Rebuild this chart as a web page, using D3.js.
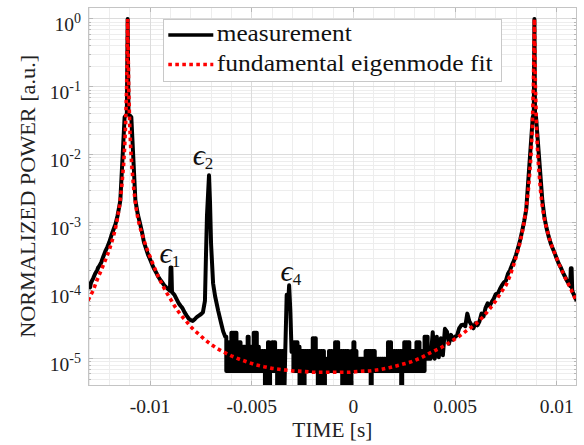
<!DOCTYPE html>
<html><head><meta charset="utf-8">
<script src="https://cdn.jsdelivr.net/npm/d3@7"></script>
<style>
body{margin:0;background:#fff}
svg{display:block}
svg text{font-family:"Liberation Serif","Times New Roman",serif}
</style>
</head><body><svg id="c" width="584" height="445"></svg>
<script>
// ---------- data ----------
const xDomain = [-0.01305, 0.01098];
const yDomain = [4e-6, 1.5];
const xTicks = [-0.01, -0.005, 0, 0.005, 0.01];
const xTickLabels = ["-0.01", "-0.005", "0", "0.005", "0.01"];
const yTickExps = [0, -1, -2, -3, -4, -5];
const seriesNames = ["measurement", "fundamental eigenmode fit"];
const xLabel = "TIME [s]";
const yLabel = "NORMALIZED POWER [a.u.]";
const peakLabels = [
  {sub: "1", t: -0.00953, p: 2.6e-4},
  {sub: "2", t: -0.00790, p: 7.1e-3},
  {sub: "4", t: -0.00358, p: 1.38e-4}
];
// measurement, left part: [time (s), normalized power]
const measurementLeft = [
[-0.01305,1.07e-4],[-0.0130,1.17e-4],[-0.01295,1.12e-4],[-0.0129,1.32e-4],[-0.0128,1.51e-4],
[-0.0127,1.78e-4],[-0.0126,2.0e-4],[-0.01255,2.2e-4],[-0.0125,2.3e-4],[-0.0124,2.6e-4],
[-0.0123,3.16e-4],[-0.0122,3.8e-4],[-0.0121,4.4e-4],[-0.0120,5.2e-4],[-0.0119,6.5e-4],
[-0.0118,7.9e-4],[-0.0117,9.5e-4],[-0.0116,1.26e-3],[-0.0115,1.82e-3],[-0.01146,2.14e-3],
[-0.01125,3.6e-2],[-0.01114,4.0e-2],[-0.0111,1],[-0.01106,4.0e-2],[-0.01092,3.6e-2],
[-0.01072,2.14e-3],[-0.0106,1.32e-3],[-0.0105,1.0e-3],[-0.0104,7.4e-4],[-0.0103,5.2e-4],
[-0.0102,4.2e-4],[-0.0101,3.4e-4],[-0.0100,2.9e-4],[-0.0099,2.45e-4],[-0.0098,2.1e-4],
[-0.0097,1.86e-4],[-0.0096,1.62e-4],[-0.0095,1.45e-4],[-0.0094,1.32e-4],[-0.0093,1.2e-4],
[-0.0092,1.12e-4],[-0.0091,1.05e-4],[-0.00902,1.0e-4],[-0.00899,2.2e-4],[-0.00895,2.2e-4],
[-0.00892,9.5e-5],[-0.0088,8.7e-5],[-0.0087,7.6e-5],[-0.0086,6.6e-5],[-0.0085,6.0e-5],
[-0.0084,5.5e-5],[-0.0083,4.8e-5],[-0.0082,4.3e-5],[-0.0081,3.9e-5],[-0.0080,3.7e-5],
[-0.0079,3.6e-5],[-0.0078,3.8e-5],[-0.0077,4.1e-5],[-0.0076,4.3e-5],[-0.0075,4.5e-5],
[-0.0074,4.8e-5],[-0.0073,7.1e-5],[-0.00725,3.2e-4],[-0.0072,1.26e-3],[-0.0071,5.0e-3],
[-0.00705,2.0e-3],[-0.0070,5.0e-4],[-0.0069,1.29e-4],[-0.0068,8.3e-5],[-0.00665,5.1e-5],
[-0.0065,3.3e-5],[-0.0064,2.5e-5]
];
// measurement noise floor, per 0.1 ms bin: [bin start (s), bin max, bin min]
const noiseBinsA = [
[-0.0063,2.1e-5,6.6e-6],[-0.0062,1.75e-5,6.6e-6],[-0.0061,1.75e-5,6.6e-6],[-0.0060,2.4e-5,6.6e-6],
[-0.0059,2.4e-5,6.6e-6],[-0.0058,2.4e-5,6.6e-6],[-0.0057,1.75e-5,6.6e-6],[-0.0056,1.75e-5,6.6e-6],
[-0.0055,1.5e-5,6.6e-6],[-0.0054,1.5e-5,6.6e-6],[-0.0053,1.5e-5,6.6e-6],[-0.0052,2.1e-5,6.6e-6],
[-0.0051,1.5e-5,6.6e-6],[-0.0050,1.5e-5,6.6e-6],[-0.0049,2.4e-5,6.6e-6],[-0.0048,2.4e-5,6.6e-6],
[-0.0047,1.5e-5,6.6e-6],[-0.0046,1.3e-5,6.6e-6],[-0.0045,1.3e-5,6.6e-6],[-0.0044,1.3e-5,2.5e-6],
[-0.0043,1.3e-5,2.5e-6],[-0.0042,1.75e-5,2.5e-6],[-0.0041,1.3e-5,6.6e-6],[-0.0040,1.75e-5,6.6e-6],
[-0.0039,1.75e-5,6.6e-6],[-0.0038,1.3e-5,2.5e-6],[-0.0037,1.3e-5,2.5e-6],[-0.0036,1.3e-5,6.6e-6],
[-0.0035,1.3e-5,2.5e-6]
];
// measurement around the 4th peak: [time (s), normalized power]
const measurementEps4 = [
[-0.00335,1.3e-5],[-0.00328,8.7e-5],[-0.00322,5.6e-5],[-0.00316,1.2e-4],[-0.0031,5.0e-5],
[-0.00304,1.26e-5]
];
const noiseBinsB = [
[-0.0030,1.75e-5,6.6e-6],[-0.0029,1.75e-5,6.6e-6],[-0.0028,1.75e-5,6.6e-6],[-0.0027,1.5e-5,2.5e-6],
[-0.0026,1.3e-5,2.5e-6],[-0.0025,1.3e-5,2.5e-6],[-0.0024,1.3e-5,6.6e-6],[-0.0023,1.3e-5,6.6e-6],
[-0.0022,1.3e-5,6.6e-6],[-0.0021,1.3e-5,6.6e-6],[-0.0020,2.0e-5,6.6e-6],[-0.0019,2.0e-5,6.6e-6],
[-0.0018,1.3e-5,2.5e-6],[-0.0017,1.3e-5,2.5e-6],[-0.0016,1.3e-5,2.5e-6],[-0.0015,1.3e-5,2.5e-6],
[-0.0014,1.0e-5,6.6e-6],[-0.0013,1.0e-5,6.6e-6],[-0.0012,1.3e-5,6.6e-6],[-0.0011,1.3e-5,6.6e-6],
[-0.0010,1.0e-5,6.6e-6],[-0.0009,1.75e-5,6.6e-6],[-0.0008,1.75e-5,6.6e-6],[-0.0007,1.3e-5,6.6e-6],
[-0.0006,1.3e-5,2.5e-6],[-0.0005,1.3e-5,2.5e-6],[-0.0004,1.3e-5,2.5e-6],[-0.0003,1.3e-5,2.5e-6],
[-0.0002,1.0e-5,2.5e-6],[-0.0001,1.3e-5,6.6e-6],[0.0000,1.75e-5,6.6e-6],[0.0001,1.3e-5,6.6e-6],
[0.0002,1.0e-5,6.6e-6],[0.0003,1.0e-5,6.6e-6],[0.0004,1.0e-5,6.6e-6],[0.0005,1.0e-5,6.6e-6],
[0.0006,1.3e-5,6.6e-6],[0.0007,1.3e-5,6.6e-6],[0.0008,1.3e-5,2.5e-6],[0.0009,1.3e-5,6.6e-6],
[0.0010,1.3e-5,6.6e-6],[0.0011,1.0e-5,6.6e-6],[0.0012,1.0e-5,6.6e-6],[0.0013,1.0e-5,6.6e-6],
[0.0014,1.0e-5,6.6e-6],[0.0015,1.0e-5,6.6e-6],[0.0016,1.0e-5,6.6e-6],[0.0017,1.75e-5,6.6e-6],
[0.0018,1.75e-5,6.6e-6],[0.0019,1.3e-5,6.6e-6],[0.0020,1.3e-5,6.6e-6],[0.0021,1.3e-5,6.6e-6],
[0.0022,1.3e-5,6.6e-6],[0.0023,1.3e-5,2.5e-6],[0.0024,1.3e-5,6.6e-6],[0.0025,1.75e-5,6.6e-6],
[0.0026,1.75e-5,6.6e-6],[0.0027,1.75e-5,6.6e-6],[0.0028,1.3e-5,6.6e-6],[0.0029,1.3e-5,6.6e-6],
[0.0030,1.3e-5,6.6e-6],[0.0031,1.75e-5,6.6e-6],[0.0032,1.75e-5,6.6e-6],[0.0033,1.3e-5,6.6e-6],
[0.0034,1.3e-5,6.6e-6],[0.0035,2.1e-5,1.0e-5],[0.0036,2.1e-5,1.0e-5]
];
// measurement, right part: [time (s), normalized power]
const measurementRight = [
[0.0038,1.0e-5],[0.0039,2.45e-5],[0.0040,1.0e-5],[0.0041,2.1e-5],[0.0042,1.05e-5],
[0.0043,2.0e-5],[0.0044,1.12e-5],[0.0045,2.75e-5],[0.0046,2.5e-5],[0.0047,1.66e-5],
[0.0048,2.24e-5],[0.0049,1.9e-5],[0.0050,2.1e-5],[0.0051,2.2e-5],[0.0052,2.8e-5],
[0.0053,3.1e-5],[0.0054,3.16e-5],[0.0055,3.0e-5],[0.0056,4.6e-5],[0.0057,3.55e-5],
[0.0058,3.16e-5],[0.0059,2.8e-5],[0.0060,3.3e-5],[0.0061,3.1e-5],[0.0062,3.55e-5],
[0.0063,4.6e-5],[0.0064,4.2e-5],[0.0065,5.6e-5],[0.0066,6.5e-5],[0.0067,6.0e-5],
[0.0068,6.8e-5],[0.0069,7.6e-5],[0.0070,8.9e-5],[0.0071,9.1e-5],[0.0072,1.05e-4],
[0.0073,1.2e-4],[0.0074,1.32e-4],[0.0075,1.41e-4],[0.0076,1.78e-4],[0.0077,2.0e-4],
[0.0078,2.4e-4],[0.0079,2.8e-4],[0.0080,3.4e-4],[0.0081,4.3e-4],[0.0082,5.6e-4],
[0.0083,7.6e-4],[0.0084,1.07e-3],[0.0085,1.58e-3],[0.00853,2.14e-3],[0.00882,3.6e-2],
[0.00887,4.0e-2],[0.0089,1],[0.00893,4.0e-2],[0.00898,3.6e-2],[0.00929,2.14e-3],
[0.0094,1.17e-3],[0.0095,8.3e-4],[0.0096,6.3e-4],[0.0097,5.0e-4],[0.0098,4.2e-4],
[0.0099,3.55e-4],[0.0100,2.95e-4],[0.0101,2.5e-4],[0.0102,2.2e-4],[0.0103,1.86e-4],
[0.0104,1.62e-4],[0.0105,1.41e-4],[0.0106,1.26e-4],[0.01066,1.17e-4],[0.01069,2.14e-4],
[0.01073,2.14e-4],[0.01076,1.0e-4],[0.0108,9.3e-5],[0.01098,7.1e-5]
];
// fundamental eigenmode fit: [time (s), normalized power]
const eigenmodeFit = [
[-0.01305,7.2e-5],[-0.0128,1.0e-4],[-0.0126,1.45e-4],[-0.0124,2.0e-4],[-0.0122,2.8e-4],
[-0.0120,4.0e-4],[-0.0118,6.3e-4],[-0.0117,8.3e-4],[-0.0116,1.17e-3],[-0.0115,1.78e-3],
[-0.0114,3.16e-3],[-0.0113,7.1e-3],[-0.01125,1.26e-2],[-0.0112,2.8e-2],[-0.01115,0.1],
[-0.0111,1],[-0.01105,0.1],[-0.0110,2.8e-2],[-0.01095,1.26e-2],[-0.0109,7.1e-3],
[-0.0108,3.16e-3],[-0.0107,1.78e-3],[-0.0106,1.17e-3],[-0.0105,8.7e-4],[-0.0104,6.9e-4],
[-0.0102,4.5e-4],[-0.0100,3.16e-4],[-0.0098,2.24e-4],[-0.0096,1.62e-4],[-0.0094,1.23e-4],
[-0.0092,9.5e-5],[-0.0090,7.6e-5],[-0.0088,6.0e-5],[-0.0086,4.9e-5],[-0.0084,4.1e-5],
[-0.0082,3.5e-5],[-0.0080,2.95e-5],[-0.0078,2.57e-5],[-0.0076,2.29e-5],[-0.0073,1.9e-5],
[-0.0070,1.62e-5],[-0.0067,1.41e-5],[-0.0064,1.26e-5],[-0.0060,1.1e-5],[-0.0056,9.8e-6],
[-0.0052,8.9e-6],[-0.0048,8.1e-6],[-0.0044,7.6e-6],[-0.0040,7.2e-6],[-0.0035,6.9e-6],
[-0.0030,6.6e-6],[-0.0025,6.5e-6],[-0.0020,6.3e-6],[-0.0011,6.3e-6],[-0.0002,6.3e-6],
[0.0003,6.5e-6],[0.0008,6.6e-6],[0.0013,6.9e-6],[0.0018,7.4e-6],[0.0023,8.1e-6],
[0.0028,8.9e-6],[0.0033,1.02e-5],[0.0038,1.23e-5],[0.0043,1.45e-5],[0.0048,1.78e-5],
[0.0052,2.14e-5],[0.0056,2.63e-5],[0.0060,3.2e-5],[0.0064,4.2e-5],[0.0067,5.4e-5],
[0.0070,7.1e-5],[0.0073,9.8e-5],[0.0075,1.2e-4],[0.0077,1.66e-4],[0.0079,2.5e-4],
[0.0081,4.0e-4],[0.0082,5.2e-4],[0.0083,7.2e-4],[0.0084,1.05e-3],[0.0085,1.66e-3],
[0.0086,3.0e-3],[0.0087,7.1e-3],[0.00875,1.26e-2],[0.0088,2.8e-2],[0.00885,0.1],
[0.0089,1],[0.00895,0.1],[0.0090,2.8e-2],[0.00905,1.26e-2],[0.0091,7.1e-3],
[0.0092,3.0e-3],[0.0093,1.66e-3],[0.0094,1.1e-3],[0.0095,8.3e-4],[0.0097,5.0e-4],
[0.0099,3.55e-4],[0.0101,2.5e-4],[0.0104,1.58e-4],[0.0107,1.05e-4],[0.01098,6.8e-5]
];

// ---------- drawing ----------
const L = 88, R = 576.7, T = 7, B = 385.7;
const svg = d3.select("#c");
const x = d3.scaleLinear().domain(xDomain).range([L, R]);
const y = d3.scaleLog().domain(yDomain).range([B, T]);

const BIN = 0.0001;
const binTrace = bins => bins.flatMap(([t, hi, lo]) =>
  [[t, hi], [t + BIN / 2, hi], [t + BIN / 2, lo], [t + BIN, lo]]);
const measurement = [].concat(measurementLeft, binTrace(noiseBinsA), measurementEps4,
  binTrace(noiseBinsB), measurementRight);

svg.append("rect").attr("width", 584).attr("height", 445).attr("fill", "#fff");

const grid = svg.append("g").attr("shape-rendering", "crispEdges");
grid.selectAll(".xm").data(x.ticks(25)).join("line")
  .attr("x1", d => x(d)).attr("x2", d => x(d)).attr("y1", T).attr("y2", B)
  .attr("stroke", "#ededed");
grid.selectAll(".ym").data(y.ticks()).join("line")
  .attr("x1", L).attr("x2", R).attr("y1", d => y(d)).attr("y2", d => y(d))
  .attr("stroke", "#ededed");
grid.selectAll(".xM").data(xTicks).join("line")
  .attr("x1", d => x(d)).attr("x2", d => x(d)).attr("y1", T).attr("y2", B)
  .attr("stroke", "#dcdcdc");
grid.selectAll(".yM").data(yTickExps).join("line")
  .attr("x1", L).attr("x2", R).attr("y1", d => y(Math.pow(10, d))).attr("y2", d => y(Math.pow(10, d)))
  .attr("stroke", "#dcdcdc");

const tk = svg.append("g").attr("stroke", "#b8b8b8").attr("shape-rendering", "crispEdges");
xTicks.forEach(v => {
  tk.append("line").attr("x1", x(v)).attr("x2", x(v)).attr("y1", B).attr("y2", B - 5);
  tk.append("line").attr("x1", x(v)).attr("x2", x(v)).attr("y1", T).attr("y2", T + 5);
});
y.ticks().forEach(v => {
  const major = Math.abs(Math.log10(v) - Math.round(Math.log10(v))) < 1e-9;
  const len = major ? 5 : 3;
  tk.append("line").attr("x1", L).attr("x2", L + len).attr("y1", y(v)).attr("y2", y(v));
  tk.append("line").attr("x1", R).attr("x2", R - len).attr("y1", y(v)).attr("y2", y(v));
});

svg.append("clipPath").attr("id", "clip").append("rect")
  .attr("x", L).attr("y", T).attr("width", R - L).attr("height", B - T);
const line = d3.line().x(d => x(d[0])).y(d => y(d[1]));
const plot = svg.append("g").attr("clip-path", "url(#clip)");
plot.append("path").datum(measurement).attr("d", line)
  .attr("fill", "none").attr("stroke", "#000").attr("stroke-width", 4)
  .attr("stroke-linejoin", "round");
plot.append("path").datum(eigenmodeFit).attr("d", line)
  .attr("fill", "none").attr("stroke", "#ff0000").attr("stroke-width", 3.6)
  .attr("stroke-dasharray", "3.6,3.4");

svg.append("rect").attr("x", L).attr("y", T).attr("width", R - L).attr("height", B - T)
  .attr("fill", "none").attr("stroke", "#c4c4c4").attr("shape-rendering", "crispEdges");

svg.selectAll(".xl").data(xTicks).join("text")
  .attr("x", d => x(d)).attr("y", 413).attr("text-anchor", "middle")
  .style("font-size", "19.5px").attr("fill", "#222")
  .text((d, i) => xTickLabels[i]);

yTickExps.forEach(e => {
  const t = svg.append("text").attr("x", 81).attr("y", y(Math.pow(10, e)) + 12)
    .attr("text-anchor", "end").attr("fill", "#222");
  t.append("tspan").style("font-size", "19.5px").text("10");
  t.append("tspan").style("font-size", "14px").attr("dy", -8).text(e === 0 ? "0" : "-" + Math.abs(e));
});

svg.append("text").attr("x", (L + R) / 2).attr("y", 437).attr("text-anchor", "middle")
  .style("font-size", "20px").attr("fill", "#222")
  .attr("textLength", 80).attr("lengthAdjust", "spacingAndGlyphs").text(xLabel);
svg.append("text").attr("transform", `translate(35,${(T + B) / 2}) rotate(-90)`)
  .attr("text-anchor", "middle").style("font-size", "21px")
  .attr("fill", "#222").attr("textLength", 283).attr("lengthAdjust", "spacingAndGlyphs")
  .text(yLabel);

peakLabels.forEach(d => {
  const t = svg.append("text").attr("x", x(d.t)).attr("y", y(d.p)).attr("fill", "#111");
  t.append("tspan").style("font-size", "30px").style("font-style", "italic").text("\u03F5");
  t.append("tspan").style("font-size", "17px").attr("dy", 4).text(d.sub);
});

const lg = svg.append("g");
lg.append("rect").attr("x", 163.3).attr("y", 19.3).attr("width", 337.7).attr("height", 61.7)
  .attr("fill", "#fff").attr("stroke", "#c8c8c8").attr("shape-rendering", "crispEdges");
lg.append("line").attr("x1", 168.3).attr("x2", 213.3).attr("y1", 35).attr("y2", 35)
  .attr("stroke", "#000").attr("stroke-width", 3.6);
lg.append("line").attr("x1", 168.3).attr("x2", 213.3).attr("y1", 64.5).attr("y2", 64.5)
  .attr("stroke", "#ff0000").attr("stroke-width", 3.6).attr("stroke-dasharray", "3.6,3.4");
const legendWidths = [135, 276];
const legendBase = [41, 71];
seriesNames.forEach((n, i) => {
  lg.append("text").attr("x", 216.7).attr("y", legendBase[i])
    .style("font-size", "23px").attr("fill", "#111")
    .attr("textLength", legendWidths[i]).attr("lengthAdjust", "spacingAndGlyphs").text(n);
});
</script></body></html>
